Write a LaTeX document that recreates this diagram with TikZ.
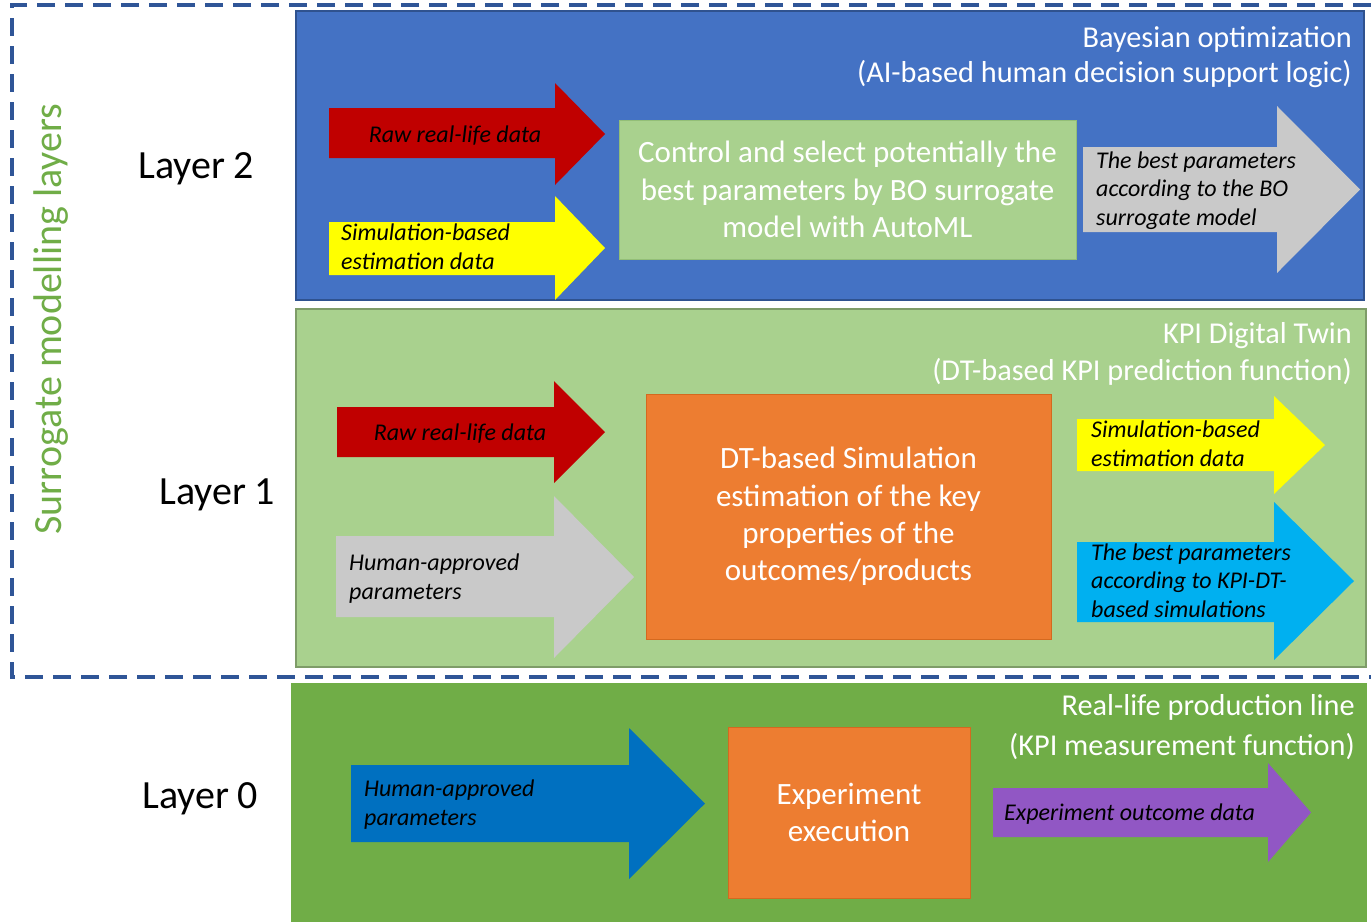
\documentclass[tikz,border=0pt]{standalone}
\usepackage{fontspec}
\setmainfont{Carlito}
\definecolor{bluepanel}{HTML}{4472C4}
\definecolor{bluepaneledge}{HTML}{2F528F}
\definecolor{lightpanel}{HTML}{A9D18E}
\definecolor{lightpaneledge}{HTML}{7E9C68}
\definecolor{greenpanel}{HTML}{70AD47}
\definecolor{frameblue}{HTML}{2F5597}
\definecolor{arrred}{HTML}{C00000}
\definecolor{arryellow}{HTML}{FFFF00}
\definecolor{arrgray}{HTML}{C9C9C9}
\definecolor{arrcyan}{HTML}{00B0F0}
\definecolor{arrblue}{HTML}{0070C0}
\definecolor{arrpurple}{HTML}{9157C4}
\definecolor{procorange}{HTML}{ED7D31}
\definecolor{procorangeedge}{HTML}{D4691F}
\definecolor{procgreenedge}{HTML}{93BE77}
\definecolor{sidegreen}{HTML}{70AD47}
% block arrow: fill, left x, head start x, tip x, shaft top, shaft bottom, head top, head bottom
\newcommand\blockarrow[8]{%
  \fill[#1] (#2,#5) -- (#3,#5) -- (#3,#7) -- (#4,{(#7+#8)/2}) -- (#3,#8) -- (#3,#6) -- (#2,#6) -- cycle;}
\begin{document}
\begin{tikzpicture}[x=1pt,y=-1pt,
  title/.style={anchor=base east, text=white, inner sep=0pt,
    font=\fontsize{30.3}{36}\selectfont},
  layerlabel/.style={anchor=base west, inner sep=0pt,
    font=\fontsize{40}{48}\selectfont},
  procbox/.style={align=center, text=white, inner sep=0pt,
    font=\fontsize{31}{37.2}\selectfont},
  arrowtext/.style={align=left, anchor=base west, inner sep=0pt,
    font=\itshape\fontsize{24}{28.5}\selectfont},
]
\useasboundingbox (0,0) rectangle (1371,922);
\fill[white] (0,0) rectangle (1371,922);

% layer panels
\draw[fill=bluepanel, draw=bluepaneledge, line width=1.5] (296,11) rectangle (1364,300);
\draw[fill=lightpanel, draw=lightpaneledge, line width=1.5] (296,309) rectangle (1366,667);
\fill[greenpanel] (291,683) rectangle (1367,922);

% dashed frame around the surrogate layers
\draw[frameblue, line width=3.8, dash pattern=on 18pt off 10pt]
  (1371,5) -- (12,5) -- (12,677) -- (1371,677);

% side labels
\node[rotate=90, text=sidegreen, inner sep=0pt, font=\fontsize{40}{48}\selectfont]
  (side) at (51,319) {Surrogate modelling layers};
\node[layerlabel] (lay2) at (138,178) {Layer 2};
\node[layerlabel] (lay1) at (159,504) {Layer 1};
\node[layerlabel] (lay0) at (142,808) {Layer 0};

% panel titles
\node[title] (t2a) at (1352,47) {Bayesian optimization};
\node[title] (t2b) at (1352,82) {(AI-based human decision support logic)};
\node[title] (t1a) at (1352,343) {KPI Digital Twin};
\node[title] (t1b) at (1352,380) {(DT-based KPI prediction function)};
\node[title] (t0a) at (1355,715) {Real-life production line};
\node[title] (t0b) at (1355,755) {(KPI measurement function)};

% ---------- Layer 2 ----------
\blockarrow{arrred}{329}{555}{605}{108}{158}{83}{185}
\node[arrowtext, anchor=base] (l2raw) at (455,142) {Raw real-life data};
\blockarrow{arryellow}{329}{555}{605}{222}{275}{196}{300}
\node[arrowtext] (l2sim) at (341,269) {Simulation-based\\estimation data};
\node[procbox, fill=lightpanel, draw=procgreenedge, line width=1,
  minimum width=457, minimum height=139] (bo) at (847.5,189.5)
  {Control and select potentially the\\best parameters by BO surrogate\\model with AutoML};
\blockarrow{arrgray}{1083}{1277}{1360}{147}{232}{106}{273}
\node[arrowtext] (l2best) at (1096,225) {The best parameters\\according to the BO\\surrogate model};

% ---------- Layer 1 ----------
\blockarrow{arrred}{337}{554}{605}{407}{457}{381}{483}
\node[arrowtext, anchor=base] (l1raw) at (460,440) {Raw real-life data};
\blockarrow{arrgray}{336}{554}{634}{536}{617}{496}{658}
\node[arrowtext] (l1human) at (349,599) {Human-approved\\parameters};
\node[procbox, fill=procorange, draw=procorangeedge, line width=1,
  minimum width=405, minimum height=245] (dt) at (848.5,516.5)
  {DT-based Simulation\\estimation of the key\\properties of the\\outcomes/products};
\blockarrow{arryellow}{1077}{1274}{1325}{419}{471}{396}{494}
\node[arrowtext] (l1sim) at (1091,466) {Simulation-based\\estimation data};
\blockarrow{arrcyan}{1077}{1274}{1354}{542}{622}{502}{660}
\node[arrowtext] (l1best) at (1091,617) {The best parameters\\according to KPI-DT-\\based simulations};

% ---------- Layer 0 ----------
\blockarrow{arrblue}{351}{629}{705}{765}{842}{728}{879}
\node[arrowtext] (l0human) at (364,825) {Human-approved\\parameters};
\node[procbox, fill=procorange, draw=procorangeedge, line width=1,
  minimum width=242, minimum height=171] (exp) at (849,812.5)
  {Experiment\\execution};
\blockarrow{arrpurple}{993}{1268}{1311}{788}{837}{763}{862}
\node[arrowtext] (l0out) at (1004,820) {Experiment outcome data};
\end{tikzpicture}
\end{document}
